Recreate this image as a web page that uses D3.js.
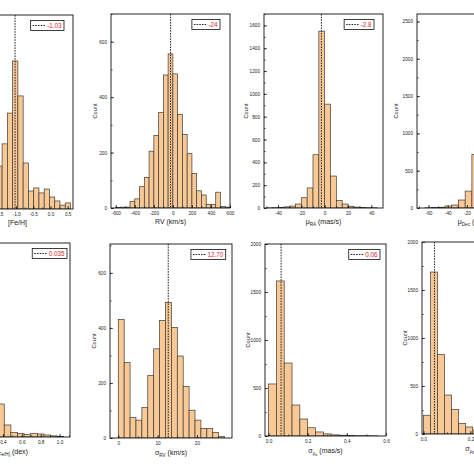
<!DOCTYPE html>
<html><head><meta charset="utf-8">
<script src="https://cdn.jsdelivr.net/npm/d3@7"></script>
<style>body{margin:0;background:#fff}svg{display:block}</style>
</head><body><svg id="c" width="474" height="474"></svg>
<script>
// ---------------- data ----------------
const fehBinStart = -1.56, fehBinWidth = 0.153;
const fehCounts = [155,235,346,534,408,166,65,76,58,72,43,29,14,22];
const fehMean = -1.03, fehLegend = "-1.03";

const rvBinStart = -600, rvBinWidth = 50;
const rvCounts = [2,3,3,23,33,77,110,205,262,344,480,556,484,338,265,196,124,62,47,13,13,57,5,3];
const rvMean = -24, rvLegend = "-24";

const praBinStart = -50, praBinWidth = 5;
const praCounts = [1,3,5,10,17,35,90,176,467,1550,910,280,65,35,15,8,5,3,2];
const praMean = -2.8, praLegend = "-2.8";

const pdecBinStart = -63.8, pdecBinWidth = 7;
const pdecCounts = [3,5,10,27,40,107,227,718];

const sfehBinStart = 0.344, sfehBinWidth = 0.07;
const sfehCounts = [340,124,48,38,24,38,31,21,12,6];
const sfehMean = 0.035, sfehLegend = "0.035";

const srvBinStart = 0, srvBinWidth = 1.5;
const srvCounts = [431,274,74,65,111,227,324,427,492,402,298,187,101,65,35,35,20,5];
const srvMean = 12.70, srvLegend = "12.70";

const spraBinStart = 0, spraBinWidth = 0.04;
const spraCounts = [542,1615,760,323,177,86,42,22,12,8,5,3,3,1];
const spraMean = 0.064, spraLegend = "0.06";

const spdecBinStart = 0, spdecBinWidth = 0.03;
const spdecCounts = [195,1687,830,406,257,111,73,42];
const spdecMean = 0.047;

// tick values
const fehXTicks = [-2.5,-2,-1.5,-1,-0.5,0,0.5];
const rvXTicks = [-600,-400,-200,0,200,400,600];
const praXTicks = [-40,-20,0,20,40];
const pdecXTicks = [-60,-40,-20,0,20,40];
const sfehXTicks = [0,0.2,0.4,0.6,0.8,1.0];
const srvXTicks = [0,10,20];
const spraXTicks = [0,0.2,0.4,0.6];
const spdecXTicks = [0,0.2,0.4];
const y700Ticks = [0,200,400,600];
const y1600Ticks = [0,200,400,600,800,1000,1200,1400,1600];
const y2500Ticks = [0,500,1000,1500,2000,2500];
const y2000Ticks = [0,500,1000,1500,2000];

// ---------------- drawing ----------------
const svg = d3.select("#c");
const FONT = "'Liberation Sans', Arial, Helvetica, sans-serif";
const FILL = "#F9C995", EDGE = "#3e3a36";
const fix = s => s.replace("\u2212", "-");

function panel(o) {
  const x = d3.scaleLinear().domain(o.xDomain).range([o.left, o.right]);
  const y = d3.scaleLinear().domain(o.yDomain).range([o.bottom, o.top]);
  const g = svg.append("g");
  const cid = "clip" + o.id;
  svg.append("clipPath").attr("id", cid).append("rect")
    .attr("x", o.left).attr("y", o.top).attr("width", o.right - o.left).attr("height", o.bottom - o.top);
  const gb = g.append("g").attr("clip-path", `url(#${cid})`);
  gb.selectAll("rect").data(o.counts).join("rect")
    .attr("x", (d, i) => x(o.binStart + i * o.binWidth))
    .attr("width", (d, i) => x(o.binStart + (i + 1) * o.binWidth) - x(o.binStart + i * o.binWidth))
    .attr("y", d => y(d)).attr("height", d => y(0) - y(d))
    .attr("fill", FILL).attr("stroke", EDGE).attr("stroke-width", 0.7);
  if (o.mean != null) {
    gb.append("line").attr("x1", x(o.mean)).attr("x2", x(o.mean))
      .attr("y1", o.top).attr("y2", o.bottom)
      .attr("stroke", "#1a1a1a").attr("stroke-width", 0.95).attr("stroke-dasharray", "1.6,1.1");
  }
  const xf = d => fix(d3.format(o.xFmt)(d));
  const yf = d => fix(d3.format(o.yFmt)(d));
  const ax = g.append("g").attr("transform", `translate(0,${o.bottom})`)
    .call(d3.axisBottom(x).tickValues(o.xTicks).tickSizeInner(-3).tickSizeOuter(0).tickPadding(3.6).tickFormat(xf));
  const axm = g.append("g").attr("transform", `translate(0,${o.bottom})`)
    .call(d3.axisBottom(x).tickValues(d3.range(o.xTicks[0] - o.xMinor, o.xTicks[o.xTicks.length-1] + o.xMinor, o.xMinor).filter(v => v >= o.xDomain[0] && v <= o.xDomain[1])).tickSizeInner(-1.6).tickSizeOuter(0).tickFormat(""));
  const ay = g.append("g").attr("transform", `translate(${o.left},0)`)
    .call(d3.axisLeft(y).tickValues(o.yTicks).tickSizeInner(-3).tickSizeOuter(0).tickPadding(4).tickFormat(yf));
  const aym = g.append("g").attr("transform", `translate(${o.left},0)`)
    .call(d3.axisLeft(y).tickValues(d3.range(o.yTicks[0], o.yDomain[1] + 1e-9, o.yMinor)).tickSizeInner(-1.6).tickSizeOuter(0).tickFormat(""));
  [ax, axm, ay, aym].forEach(a => {
    a.select(".domain").remove();
    a.selectAll("line").attr("stroke", "#111").attr("stroke-width", 0.7);
    a.selectAll("text").attr("font-family", FONT).attr("font-size", 4.7).attr("fill", "#222");
  });
  g.append("rect").attr("x", o.left).attr("y", o.top)
    .attr("width", o.right - o.left).attr("height", o.bottom - o.top)
    .attr("fill", "none").attr("stroke", "#111").attr("stroke-width", 0.9);
  g.append("text").attr("transform", `translate(${o.left + o.countDx},${(o.top + o.bottom) / 2}) rotate(-90)`)
    .attr("text-anchor", "middle").attr("font-family", FONT).attr("font-size", 5.6).attr("fill", "#222")
    .text("Count");
  const t = g.append("text").attr("x", (o.left + o.right) / 2 + (o.titleDx || 0)).attr("y", o.bottom + o.titleDy)
    .attr("text-anchor", "middle").attr("font-family", FONT).attr("font-size", 7).attr("fill", "#222");
  o.title.forEach(p => {
    const s = t.append("tspan").text(p.t);
    if (p.sub === 1) s.attr("font-size", 4.6).attr("dy", 1.6);
    if (p.sub === 2) s.attr("font-size", 3.6).attr("dy", 1.0);
    if (p.up) s.attr("dy", -p.up);
  });
  if (o.legend != null) {
    const lg = g.append("g");
    const box = lg.append("rect");
    const tx = lg.append("text").attr("font-family", FONT).attr("font-size", 6.3).attr("fill", "#e3262b").text(o.legend);
    const tw = tx.node().getComputedTextLength();
    const w = 2 + 13 + 1.5 + tw + 2.5, h = 10;
    const x0 = o.legRight - w, y0 = o.top + 5.5;
    box.attr("x", x0).attr("y", y0).attr("width", w).attr("height", h)
      .attr("fill", "#fff").attr("stroke", "#111").attr("stroke-width", 0.8);
    lg.append("line").attr("x1", x0 + 2).attr("x2", x0 + 15).attr("y1", y0 + h / 2).attr("y2", y0 + h / 2)
      .attr("stroke", "#111").attr("stroke-width", 0.9).attr("stroke-dasharray", "1.6,1.1");
    tx.attr("x", x0 + 16.5).attr("y", y0 + h / 2 + 2.2);
  }
}

panel({id:1, left:-46, right:73, top:15, bottom:209, xDomain:[-2.805,0.654], yDomain:[0,700],
  counts:fehCounts, binStart:fehBinStart, binWidth:fehBinWidth, mean:fehMean, legend:fehLegend, legRight:64,
  xTicks:fehXTicks, xMinor:0.25, yTicks:y700Ticks, yMinor:100, xFmt:".1f", yFmt:"d", countDx:-15, titleDy:16, titleDx:4,
  title:[{t:"[Fe/H]"}]});
panel({id:2, left:111, right:230, top:14, bottom:208, xDomain:[-650,600], yDomain:[0,700],
  counts:rvCounts, binStart:rvBinStart, binWidth:rvBinWidth, mean:rvMean, legend:rvLegend, legRight:220,
  xTicks:rvXTicks, xMinor:100, yTicks:y700Ticks, yMinor:100, xFmt:"d", yFmt:"d", countDx:-14, titleDy:16,
  title:[{t:"RV (km/s)"}]});
panel({id:3, left:264, right:383, top:14, bottom:208, xDomain:[-52,50], yDomain:[0,1700],
  counts:praCounts, binStart:praBinStart, binWidth:praBinWidth, mean:praMean, legend:praLegend, legRight:374,
  xTicks:praXTicks, xMinor:10, yTicks:y1600Ticks, yMinor:100, xFmt:"d", yFmt:"d", countDx:-16, titleDy:16,
  title:[{t:"\u03BC"},{t:"RA",sub:1},{t:" (mas/s)",up:1.6}]});
panel({id:4, left:417, right:536, top:14, bottom:208, xDomain:[-72,52], yDomain:[0,2600],
  counts:pdecCounts, binStart:pdecBinStart, binWidth:pdecBinWidth, mean:null, legend:null,
  xTicks:pdecXTicks, xMinor:10, yTicks:y2500Ticks, yMinor:250, xFmt:"d", yFmt:"d", countDx:-19, titleDy:16,
  title:[{t:"\u03BC"},{t:"Dec",sub:1},{t:" (mas/s)",up:1.6}]});
panel({id:5, left:-49, right:70, top:243, bottom:437, xDomain:[-0.15,1.11], yDomain:[0,2000],
  counts:sfehCounts, binStart:sfehBinStart, binWidth:sfehBinWidth, mean:sfehMean, legend:sfehLegend, legRight:67,
  xTicks:sfehXTicks, xMinor:0.1, yTicks:y2000Ticks, yMinor:250, xFmt:".1f", yFmt:"d", countDx:-15, titleDy:17,
  title:[{t:"\u03C3"},{t:"[Fe/H]",sub:1},{t:" (dex)",up:1.6}]});
panel({id:6, left:110, right:232, top:244, bottom:438, xDomain:[-2.1,28.9], yDomain:[0,705],
  counts:srvCounts, binStart:srvBinStart, binWidth:srvBinWidth, mean:srvMean, legend:srvLegend, legRight:225.7,
  xTicks:srvXTicks, xMinor:5, yTicks:y700Ticks, yMinor:100, xFmt:"d", yFmt:"d", countDx:-14, titleDy:17,
  title:[{t:"\u03C3"},{t:"RV",sub:1},{t:" (km/s)",up:1.6}]});
panel({id:7, left:265, right:386, top:244, bottom:436, xDomain:[-0.018,0.6], yDomain:[0,2000],
  counts:spraCounts, binStart:spraBinStart, binWidth:spraBinWidth, mean:spraMean, legend:spraLegend, legRight:380,
  xTicks:spraXTicks, xMinor:0.1, yTicks:y2000Ticks, yMinor:250, xFmt:".1f", yFmt:"d", countDx:-15, titleDy:17,
  title:[{t:"\u03C3"},{t:"\u03BC",sub:1},{t:"\u03B1",sub:2},{t:" (mas/s)",up:2.6}]});
panel({id:8, left:422, right:543, top:242, bottom:434, xDomain:[-0.006,0.509], yDomain:[0,2000],
  counts:spdecCounts, binStart:spdecBinStart, binWidth:spdecBinWidth, mean:spdecMean, legend:null,
  xTicks:spdecXTicks, xMinor:0.1, yTicks:y2000Ticks, yMinor:250, xFmt:".1f", yFmt:"d", countDx:-15, titleDy:17,
  title:[{t:"\u03C3"},{t:"\u03BC",sub:1},{t:"\u03B4",sub:2},{t:" (mas/s)",up:2.6}]});

// drop texts lying wholly outside the 474x474 view (the reference is a crop)
svg.selectAll("text").each(function () {
  const r = this.getBoundingClientRect();
  if (r.right <= 0 || r.left >= 474 || r.bottom <= 0 || r.top >= 474) d3.select(this).remove();
});
</script>
</body></html>
